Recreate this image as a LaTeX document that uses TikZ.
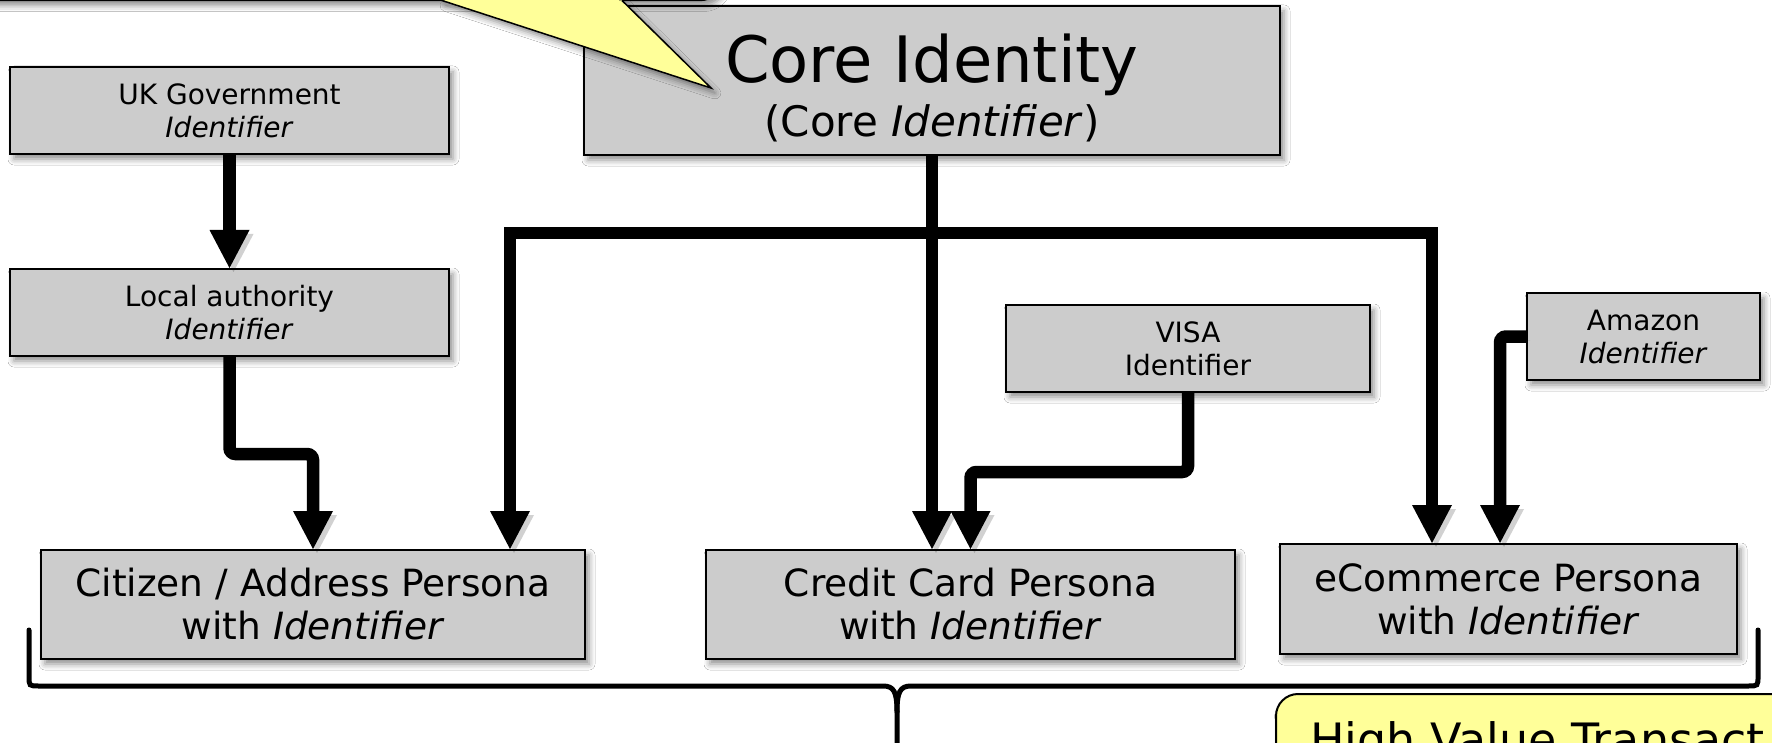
\documentclass[tikz,border=0pt]{standalone}
\usepackage{fontspec}
\setmainfont{DejaVu Sans}
\usetikzlibrary{arrows.meta,shadows.blur,calc}
\definecolor{boxgray}{HTML}{CCCCCC}
\definecolor{callyellow}{HTML}{FFFF99}
\begin{document}
\begin{tikzpicture}[x=1pt,y=-1pt,
  >={Triangle[length=38pt,width=40pt,line width=0pt]},
  softshadow/.style={blur shadow={shadow xshift=4pt,shadow yshift=-5pt,shadow blur radius=6pt,shadow opacity=45}},
  box/.style={draw=black, line width=2pt, fill=boxgray, align=center, inner sep=0pt, softshadow},
  small/.style={font=\fontsize{28}{33}\selectfont},
  persona/.style={font=\fontsize{37.5}{43}\selectfont},
  conn/.style={line width=12.5pt, ->, preaction={draw=black, opacity=.18, transform canvas={shift={(4pt,-4pt)}}}},
  bus/.style={line width=12.5pt, <->, line join=miter, preaction={draw=black, opacity=.18, transform canvas={shift={(4pt,-4pt)}}}},
  brace/.style={line width=5pt, line cap=round},
  txt/.style={inner sep=0pt, anchor=base}
]
\useasboundingbox (0,0) rectangle (1772,743);
\clip (0,0) rectangle (1772,743);
\fill[white] (0,0) rectangle (1772,743);

% boxes
\node[box, minimum width=696pt, minimum height=149pt] (core) at (932,80.5) {};
\node[txt, font=\fontsize{64}{64}\selectfont] (coreA) at (932,83) {Core Identity};
\node[txt, font=\fontsize{42}{42}\selectfont] (coreB) at (932,137) {(Core \textit{Identifier})};

\node[box, small, minimum width=439pt, minimum height=87pt] (uk) at (229.5,110.5) {UK Government\\\textit{Identifier}};
\node[box, small, minimum width=439pt, minimum height=87pt] (local) at (229.5,312.5) {Local authority\\\textit{Identifier}};
\node[box, small, minimum width=364pt, minimum height=87pt] (visa) at (1188,348.5) {VISA\\Identifier};
\node[box, small, minimum width=233pt, minimum height=87pt] (amazon) at (1643.5,336.5) {Amazon\\\textit{Identifier}};

\node[box, persona, minimum width=544pt, minimum height=109pt] (citizen) at (313,604.5) {Citizen / Address Persona\\with \textit{Identifier}};
\node[box, persona, minimum width=529pt, minimum height=109pt] (credit) at (970.5,604.5) {Credit Card Persona\\with \textit{Identifier}};
\node[box, persona, minimum width=457pt, minimum height=110pt] (ecom) at (1508.5,599) {eCommerce Persona\\with \textit{Identifier}};

% connectors
\draw[conn] (uk.south) -- (local.north);
\draw[conn, rounded corners=6pt] (local.south) -- ++(0,97) -| (citizen.north);
\draw[conn] (core.south) -- (core.south |- credit.north);
\coordinate (busL) at (510,233);
\coordinate (busR) at (1432,233);
\draw[bus] (busL |- citizen.north) -- (busL) -- (busR) -- (busR |- ecom.north);
\draw[conn, rounded corners=6pt] (visa.south) -- ++(0,79) -| (credit.north);
\coordinate (amzIn) at ($(ecom.north)+(-8.5,0)$);
\draw[conn, rounded corners=6pt] (amazon.west) -| (amzIn);

% brace
\coordinate (brL) at (29,630);
\coordinate (brR) at (1758,630);
\coordinate (brTip) at (897,712);
\coordinate (brEnd) at (897,760);
\draw[brace] (brL) -- (29,676) .. controls (29,686) .. (39,686) -- (883,686) .. controls (894,686) and (897,692) .. (brTip) -- (brEnd);
\draw[brace] (brR) -- (1758,676) .. controls (1758,686) .. (1748,686) -- (911,686) .. controls (900,686) and (897,692) .. (brTip);

% high value callout box (cut off by the edge, as in the reference)
\node[draw=black, line width=2pt, fill=callyellow, rounded corners=22pt, minimum width=600pt, minimum height=200pt, anchor=north west, softshadow] (hv) at (1275,693) {};
\node[inner sep=0pt, anchor=base west, font=\fontsize{46}{46}\selectfont] (hvT) at (1310,756) {High Value Transact};

% top callout (cut off)
\draw[line width=1.5pt, fill=callyellow, rounded corners=22pt, softshadow] (-60,-300) rectangle (722,0.5);
\fill[callyellow, softshadow] (442,0.5) -- (711,88) -- (622,0.5) -- cycle;
\fill[callyellow] (445,-4) rectangle (619,1.5);
\draw[line width=1.5pt, line join=miter] (442,0.5) -- (711,88) -- (622,0.5);
\end{tikzpicture}
\end{document}
